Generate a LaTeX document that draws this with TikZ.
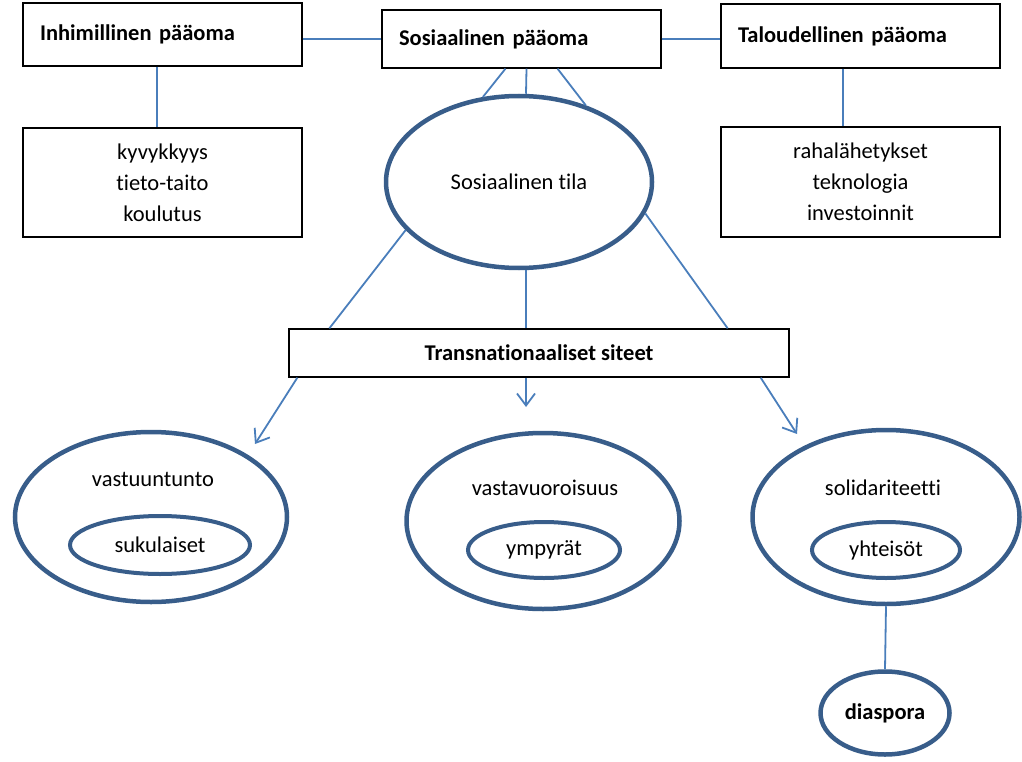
\documentclass[tikz,border=0pt]{standalone}
\usepackage{fontspec}
\setmainfont{Carlito}[Ligatures=NoCommon]
\usepackage{tikz}
\usetikzlibrary{shapes.geometric, arrows.meta}
\definecolor{linkblue}{RGB}{74,126,187}
\definecolor{ringblue}{RGB}{56,93,138}

\begin{document}
\begin{tikzpicture}[x=1pt, y=-1pt, font=\fontsize{22.5}{31}\selectfont,
  box/.style={draw=black, line width=1.3pt, minimum width=279pt, inner sep=0pt},
  headbox/.style={box, text width=245pt, align=left, font=\fontsize{22.5}{31}\selectfont\bfseries},
  listbox/.style={box, align=center},
  link/.style={draw=linkblue, line width=1.8pt},
  linkarrow/.style={link, -{Straight Barb[length=12pt, width=18pt, line width=1.8pt]}},
  bigring/.style={ellipse, draw=ringblue, line width=4.5pt, inner sep=0pt},
  smallring/.style={ellipse, draw=ringblue, line width=4pt, inner sep=0pt}]
  \useasboundingbox (0,0) rectangle (1022,762);

  \node[headbox, minimum height=63pt] (ihp) at (162.5,34.5) {Inhimillinen pääoma};
  \node[headbox, minimum height=58pt] (sp) at (521.5,39) {Sosiaalinen pääoma};
  \node[headbox, minimum height=64pt] (tp) at (860.5,36) {Taloudellinen pääoma};
  \node[listbox, minimum height=109pt] (kyky) at (162.5,182.5) {kyvykkyys\\tieto-taito\\koulutus};
  \node[listbox, minimum height=110pt] (raha) at (860.5,182) {rahalähetykset\\teknologia\\investoinnit};

  \node[bigring, minimum width=266pt, minimum height=172pt] (tila) at (519,182) {Sosiaalinen tila};
  \node[box, minimum width=500pt, minimum height=48pt, font=\fontsize{22.5}{31}\selectfont\bfseries] (trans) at (539,353) {Transnationaaliset siteet};

  \node[bigring, minimum width=272pt, minimum height=170pt] (vast) at (151,517) {};
  \node (vasttxt) at (153,479) {vastuuntunto};
  \node[smallring, minimum width=180pt, minimum height=58pt] (suku) at (160,545) {sukulaiset};

  \node[bigring, minimum width=273pt, minimum height=176pt] (vavu) at (543,521) {};
  \node (vavutxt) at (545,488) {vastavuoroisuus};
  \node[smallring, minimum width=152pt, minimum height=56pt] (ymp) at (544,550) {ympyrät};

  \node[bigring, minimum width=267pt, minimum height=174pt] (soli) at (886,517) {};
  \node (solitxt) at (883,488) {solidariteetti};
  \node[smallring, minimum width=148pt, minimum height=56pt] (yht) at (886,550) {yhteisöt};

  \node[bigring, minimum width=129pt, minimum height=83pt, font=\fontsize{22.5}{31}\selectfont\bfseries] (dias) at (885,713) {diaspora};

  \coordinate (vastend) at (255,444);
  \coordinate (vavuend) at (526,407);
  \coordinate (soliend) at (797,434);

  \draw[link] (ihp.east |- sp.west) -- (sp.west);
  \draw[link] (sp.east) -- (tp.west |- sp.east);
  \draw[link] ([xshift=-5.5pt]ihp.south) -- ([xshift=-5.5pt]kyky.north);
  \draw[link] ([xshift=-17.5pt]tp.south) -- ([xshift=-17.5pt]raha.north);
  \draw[link] ([xshift=-16pt]sp.south) -- (tila.113);
  \draw[link] ([xshift=5pt]sp.south) -- ([xshift=7pt]tila.north);
  \draw[link] ([xshift=36pt]sp.south) -- (tila.49);
  \draw[link] (tila.203) -- ([xshift=41pt]trans.north west);
  \draw[link] ([xshift=7pt]tila.south) -- ([xshift=-13pt]trans.north);
  \draw[link] (tila.346) -- ([xshift=-62pt]trans.north east);
  \draw[linkarrow] ([xshift=9pt]trans.south west) -- (vastend);
  \draw[linkarrow] ([xshift=-13pt]trans.south) -- (vavuend);
  \draw[linkarrow] ([xshift=-29pt]trans.south east) -- (soliend);
  \draw[link] (soli.south) -- (dias.north);
\end{tikzpicture}
\end{document}
